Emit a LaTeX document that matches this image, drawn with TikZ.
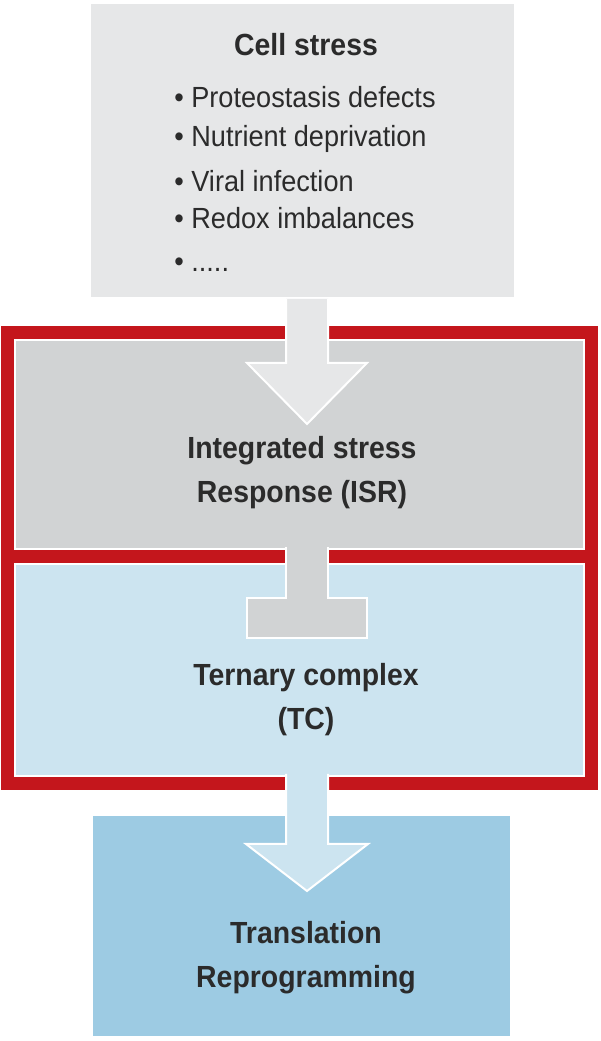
\documentclass[tikz,border=0pt]{standalone}
\usepackage{xcolor}
\usepackage{fontspec}
\setmainfont{Liberation Sans}[FakeStretch=0.93]
\usepackage{tikz}
\usetikzlibrary{fit, backgrounds}

\definecolor{stressgray}{HTML}{E6E7E8}
\definecolor{isrgray}{HTML}{D1D3D4}
\definecolor{tcblue}{HTML}{CCE4F0}
\definecolor{transblue}{HTML}{9DCBE3}
\definecolor{framered}{HTML}{C4161C}
\definecolor{ink}{HTML}{2B2B2B}

\begin{document}
\begin{tikzpicture}[
        x=0.02cm, y=-0.02cm,
        panel/.style={rectangle, draw=white, line width=0.04cm, inner sep=0pt},
        heading/.style={font=\bfseries\fontsize{17.4pt}{25pt}\selectfont, text=ink, align=center, inner sep=0pt, anchor=base},
        stressitem/.style={font=\fontsize{16.6pt}{20pt}\selectfont, text=ink, inner sep=0pt, anchor=base west},
        blockarrow/.style={draw=white, line width=0.04cm, line join=miter}
    ]
        \useasboundingbox (0,0) rectangle (600,1041);

        % Boxes
        \node[panel, fill=stressgray, minimum width=8.5cm, minimum height=5.9cm] (stress) at (302.5,150.5) {};
        \node[panel, fill=isrgray, minimum width=11.38cm, minimum height=4.18cm] (isr) at (299.5,444.5) {};
        \node[panel, fill=tcblue, minimum width=11.38cm, minimum height=4.24cm] (tc) at (299.5,670) {};
        \node[panel, fill=transblue, minimum width=8.38cm, minimum height=4.44cm] (trans) at (301.5,926) {};

        % Red frame round ISR and TC
        \begin{scope}[on background layer]
            \node[fill=framered, inner sep=0.26cm, fit=(isr)(tc)] (frame) {};
        \end{scope}

        % Block arrows
        \draw[blockarrow, fill=stressgray] ([xshift=-0.33cm]stress.south) -- ++(0,64) -- ++(-39,0) -- ++(60,61) -- ++(60,-61) -- ++(-39,0) -- ++(0,-64);
        \draw[blockarrow, fill=isrgray] ([xshift=-0.27cm, yshift=0.06cm]isr.south) -- ++(0,51) -- ++(-39,0) -- ++(0,40) -- ++(120,0) -- ++(0,-40) -- ++(-39,0) -- ++(0,-51);
        \draw[blockarrow, fill=tcblue] ([xshift=-0.27cm, yshift=0.06cm]tc.south) -- ++(0,70) -- ++(-40,0) -- ++(61,47) -- ++(61,-47) -- ++(-40,0) -- ++(0,-70);

        % Texts (base = last line)
        \node[heading] (stresstitle) at (306,55) {Cell stress};
        \foreach \y/\txt in {107/Proteostasis defects, 146/Nutrient deprivation, 191/Viral infection, 228/Redox imbalances, 271/{.{}.{}.{}.{}.}}
            \node[stressitem] (cause\y) at (174,\y) {\textbullet\ \txt};
        \node[heading] (isrtext) at (302,502) {Integrated stress\\Response (ISR)};
        \node[heading] (tctext) at (306,729) {Ternary complex\\(TC)};
        \node[heading] (transtext) at (306,987) {Translation\\Reprogramming};

    \end{tikzpicture}
\end{document}
